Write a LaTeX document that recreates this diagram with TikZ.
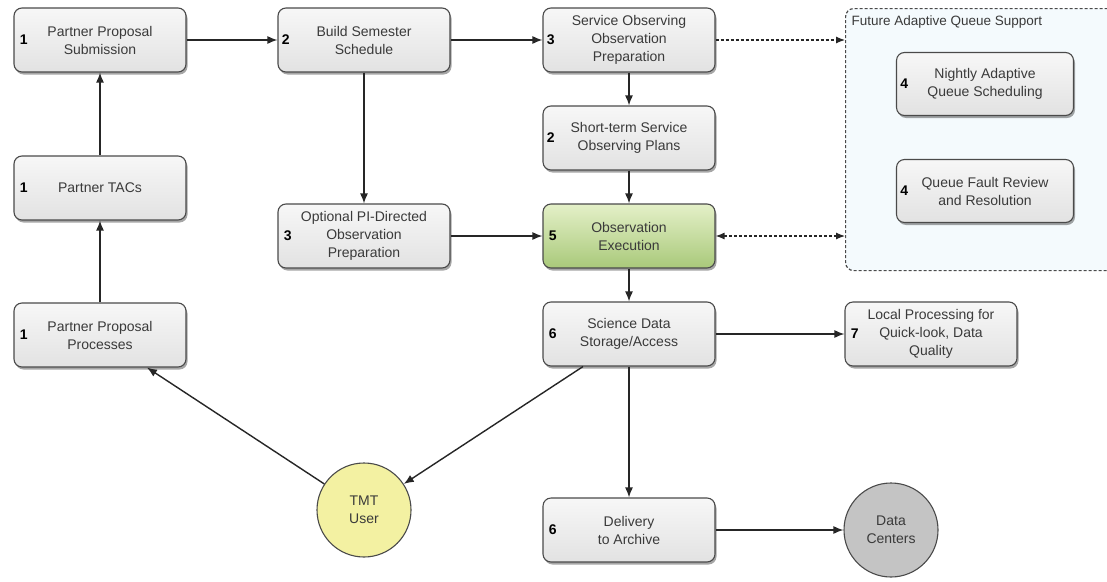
\documentclass[tikz,border=0pt]{standalone}
\usepackage{fontspec}
\setmainfont{Liberation Sans}
\usetikzlibrary{arrows.meta,shadows,positioning,calc}
\definecolor{ink}{HTML}{3A3A3A}
\definecolor{edge}{HTML}{4A4A4A}
\definecolor{boxtop}{HTML}{F7F7F7}
\definecolor{boxbot}{HTML}{E2E2E2}
\definecolor{greentop}{HTML}{E4F0C8}
\definecolor{greenbot}{HTML}{A9C97A}
\definecolor{userfill}{HTML}{F3F1A2}
\definecolor{centerfill}{HTML}{C4C4C4}
\definecolor{groupfill}{HTML}{F4FAFD}
\begin{document}
\begin{tikzpicture}[x=1pt,y=-1pt,
  every node/.style={font=\fontsize{14}{18}\selectfont, text=ink},
  stepbox/.style={draw=edge, line width=1.1pt, rounded corners=8pt,
    minimum width=172pt, minimum height=64pt, align=center, inner sep=2pt,
    top color=boxtop, bottom color=boxbot,
    drop shadow={shadow xshift=1.5pt, shadow yshift=-2.5pt, opacity=0.35, fill=black}},
  greenbox/.style={stepbox, top color=greentop, bottom color=greenbot},
  actor/.style={circle, draw=edge, line width=1.1pt, minimum size=94pt, align=center},
  num/.style={font=\fontsize{14}{16}\selectfont\bfseries, text=black, anchor=west},
  flow/.style={draw=black!85, line width=1.4pt, -{Latex[length=10pt,width=8pt]}},
  future/.style={draw=black!85, line width=1.2pt, dash pattern=on 3pt off 2pt}
]
\useasboundingbox (0,0) rectangle (1107,581);
\fill[white] (0,0) rectangle (1107,581);

% dashed group for the adaptive queue tools
\node[draw=edge, line width=1.2pt, dash pattern=on 3pt off 2pt, rounded corners=8pt,
      fill=groupfill, minimum width=280pt, minimum height=262pt, anchor=north west]
      (grp) at (845,8) {};
\node[anchor=west, font=\fontsize{13.5}{15}\selectfont] (grptitle) at (848,22) {Future Adaptive Queue Support};

% process boxes
\node[stepbox] (pps) at (100,40) {Partner Proposal\\Submission};
\node[stepbox] (tacs) at (100,188) {Partner TACs};
\node[stepbox] (ppp) at (100,335) {Partner Proposal\\Processes};
\node[stepbox] (bss) at (364,40) {Build Semester\\Schedule};
\node[stepbox] (opt) at (364,236) {Optional PI-Directed\\Observation\\Preparation};
\node[stepbox] (soop) at (629,40) {Service Observing\\Observation\\Preparation};
\node[stepbox] (stp) at (629,138) {Short-term Service\\Observing Plans};
\node[greenbox] (exec) at (629,236) {Observation\\Execution};
\node[stepbox] (sda) at (629,334) {Science Data\\Storage/Access};
\node[stepbox] (dta) at (629,530) {Delivery\\to Archive};
\node[stepbox] (lp) at (931,334) {Local Processing for\\Quick-look, Data\\Quality};
\node[stepbox, minimum width=177pt, minimum height=63pt] (naq) at (985,84) {Nightly Adaptive\\Queue Scheduling};
\node[stepbox, minimum width=177pt, minimum height=63pt] (qfr) at (985,191) {Queue Fault Review\\and Resolution};

% step numbers
\node[num] at ([xshift=3pt]pps.west) {1};
\node[num] at ([xshift=3pt]tacs.west) {1};
\node[num] at ([xshift=3pt]ppp.west) {1};
\node[num] at ([xshift=1pt]bss.west) {2};
\node[num] at ([xshift=3pt]opt.west) {3};
\node[num] at ([xshift=1pt]soop.west) {3};
\node[num] at ([xshift=1pt]stp.west) {2};
\node[num] at ([xshift=3pt]exec.west) {5};
\node[num] at ([xshift=3pt]sda.west) {6};
\node[num] at ([xshift=3pt]dta.west) {6};
\node[num] at ([xshift=3pt]lp.west) {7};
\node[num] at ([xshift=1pt]naq.west) {4};
\node[num] at ([xshift=1pt]qfr.west) {4};

% actors
\node[actor, fill=userfill] (user) at (364,510) {TMT\\User};
\node[actor, fill=centerfill] (dc) at (891,530) {Data\\Centers};

% flows
\draw[flow] (pps) -- (bss);
\draw[flow] (tacs) -- (pps);
\draw[flow] (ppp) -- (tacs);
\draw[flow] (bss) -- (soop);
\draw[flow] (bss) -- (opt);
\draw[flow] (opt) -- (exec);
\draw[flow] (soop) -- (stp);
\draw[flow] (stp) -- (exec);
\draw[flow] (exec) -- (sda);
\draw[flow] (sda) -- (lp);
\draw[flow] (sda) -- (dta);
\draw[flow] (dta) -- (dc);
\draw[flow] ([xshift=-46pt]sda.south) -- (user);
\draw[flow] (user) -- ([xshift=47pt]ppp.south);

% links to the future adaptive queue support
\coordinate (grpin) at (grp.west |- soop);
\coordinate (grpex) at (grp.west |- exec);
\draw[future, -{Latex[length=9pt,width=7pt]}] (soop) -- (grpin);
\draw[future, {Latex[length=9pt,width=7pt]}-{Latex[length=9pt,width=7pt]}] (exec) -- (grpex);
\end{tikzpicture}
\end{document}
